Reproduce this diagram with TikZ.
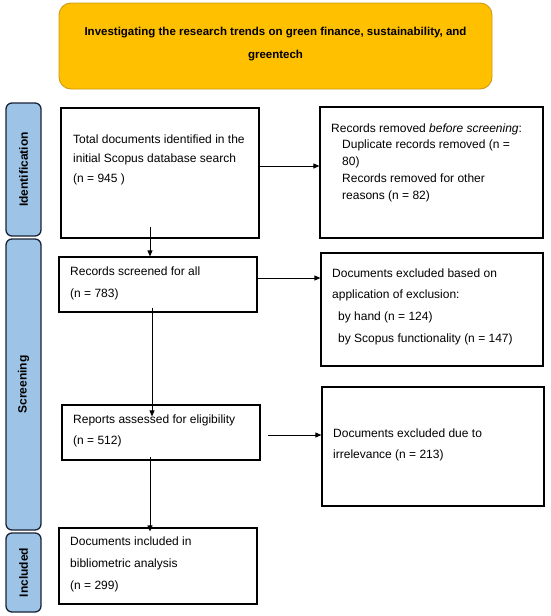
\documentclass[tikz,border=0pt]{standalone}
\usepackage{fontspec}
\setmainfont{Liberation Sans}
\usetikzlibrary{arrows.meta}
\definecolor{titlefill}{RGB}{255,192,0}
\definecolor{titledraw}{RGB}{205,155,20}
\definecolor{barfill}{RGB}{157,195,230}
\definecolor{bardraw}{RGB}{25,35,55}
\tikzset{
  titlebox/.style={draw=titledraw, fill=titlefill, line width=0.9pt, rounded corners=12pt, inner sep=0pt},
  phase/.style={draw=bardraw, fill=barfill, line width=1.3pt, rounded corners=6pt, inner sep=0pt, minimum width=35pt},
  phasetxt/.style={rotate=90, font=\fontsize{12}{14}\selectfont\bfseries, inner sep=0pt},
  stepbox/.style={draw=black, line width=1.2pt, inner sep=0pt, minimum width=198pt},
  sidebox/.style={draw=black, line width=1.2pt, inner sep=0pt, minimum width=222pt},
  txt/.style={anchor=base west, align=left, inner sep=0pt},
  arr/.style={draw=black, line width=0.8pt, -{Triangle[length=6pt,width=5pt]}}
}
\begin{document}
\begin{tikzpicture}[x=1pt,y=-1pt]
\useasboundingbox (0,0) rectangle (550,616);
% title
\node[titlebox, minimum width=433pt, minimum height=86pt] (title) at (275.5,46) {};
\node[anchor=base, align=center, inner sep=0pt, font=\fontsize{11.5}{23}\selectfont\bfseries] (titlet) at (275.5,58)
  {Investigating the research trends on green finance, sustainability, and\\greentech};
% phase bars
\node[phase, minimum height=133pt] (pid) at (23.5,169.5) {};
\node[phasetxt] (pidt) at (pid.center) {Identification};
\node[phase, minimum height=291pt] (psc) at (23.5,384.5) {};
\node[phasetxt] (psct) at (psc.center) {Screening};
\node[phase, minimum height=79pt] (pin) at (23.5,572.5) {};
\node[phasetxt] (pint) at (pin.center) {Included};
% boxes
\node[stepbox, minimum height=130pt] (b1) at (160,173) {};
\node[txt, font=\fontsize{12}{19.5}\selectfont] (b1t) at (73,182)
  {Total documents identified in the\\initial Scopus database search\\(n = 945 )};
\node[sidebox, minimum width=223pt, minimum height=131pt] (r1) at (431.5,172.5) {};
\node[txt, font=\fontsize{12}{16.8}\selectfont] (r1t) at (331,199.2)
  {Records removed \textit{before screening}:\\
   \hspace*{11pt}Duplicate records removed (n =\\
   \hspace*{11pt}80)\\
   \hspace*{11pt}Records removed for other\\
   \hspace*{11pt}reasons (n = 82)};
\node[stepbox, minimum height=55pt] (b2) at (158,284.5) {};
\node[txt, font=\fontsize{12}{22}\selectfont] (b2t) at (70,297)
  {Records screened for all\\(n = 783)};
\node[sidebox, minimum height=113pt] (r2) at (432,309.5) {};
\node[txt, font=\fontsize{12}{21.7}\selectfont] (r2t) at (332,342.1)
  {Documents excluded based on\\application of exclusion:\\
   \hspace*{6pt}by hand (n = 124)\\
   \hspace*{6pt}by Scopus functionality (n = 147)};
\node[stepbox, minimum height=55pt] (b3) at (161,432.5) {};
\node[txt, font=\fontsize{12}{21}\selectfont] (b3t) at (73,444)
  {Reports assessed for eligibility\\(n = 512)};
\node[sidebox, minimum height=119pt] (r3) at (433,446.5) {};
\node[txt, font=\fontsize{12}{21}\selectfont] (r3t) at (333,458)
  {Documents excluded due to\\irrelevance (n = 213)};
\node[stepbox, minimum height=76pt] (b4) at (158,566) {};
\node[txt, font=\fontsize{12}{22}\selectfont] (b4t) at (70,589)
  {Documents included in\\bibliometric analysis\\(n = 299)};
% connectors
\draw[arr] ([yshift=7pt]b1.east) -- ([yshift=7pt]b1.east -| r1.west);
\coordinate (a2s) at ([xshift=-10pt,yshift=12pt]b1.south);
\draw[arr] (a2s) -- (a2s |- b2.north);
\draw[arr] ([yshift=6.5pt]b2.east) -- ([yshift=6.5pt]b2.east -| r2.west);
\coordinate (a4s) at ([xshift=-6pt,yshift=5pt]b2.south);
\coordinate (a4e) at (a4s |- b3.north);
\draw[arr] (a4s) -- ([yshift=-12pt]a4e);
\coordinate (a5s) at ([xshift=7pt,yshift=-2.5pt]b3.east);
\draw[arr] (a5s) -- (a5s -| r3.west);
\coordinate (a6s) at ([xshift=-11pt,yshift=4pt]b3.south);
\coordinate (a6e) at (a6s |- b4.north);
\draw[arr] (a6s) -- ([yshift=-4pt]a6e);
\end{tikzpicture}
\end{document}
